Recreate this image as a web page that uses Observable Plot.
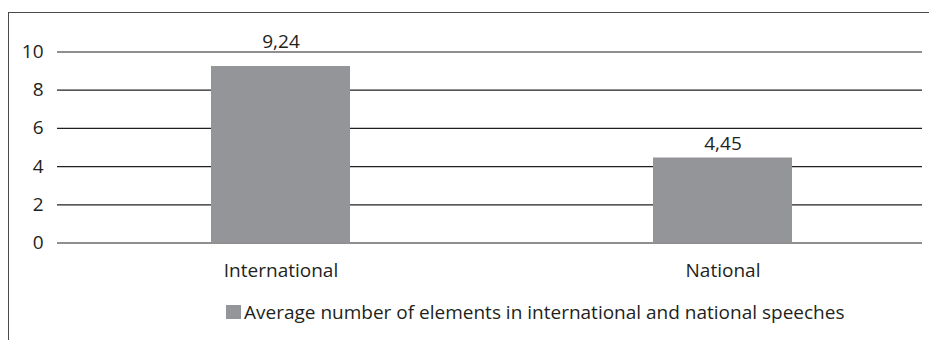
<!DOCTYPE html>
<html>
<head>
<meta charset="utf-8">
<script src="https://cdn.jsdelivr.net/npm/d3@7"></script>
<script src="https://cdn.jsdelivr.net/npm/@observablehq/plot@0.6"></script>
<style>
  html, body { margin: 0; padding: 0; background: #fff; }
  body { position: relative; width: 929px; height: 340px; overflow: hidden; font-family: "Open Sans", sans-serif; color: #231f20; }
  #frame { position: absolute; left: 7.5px; top: 12px; width: 1000px; height: 400px; border-left: 1.5px solid #4a4a4a; border-top: 1.5px solid #4a4a4a; pointer-events: none; }
  #chart { position: absolute; left: 0; top: 0; }
  #legend { position: absolute; left: 226px; top: 299px; display: flex; align-items: center; font-size: 19px; white-space: nowrap; }
  #legend .sw { width: 15px; height: 14px; background: #939598; margin-right: 3px; }
</style>
</head>
<body>
<div id="chart"></div>
<div id="frame"></div>
<div id="legend"><span class="sw"></span><span class="lt"></span></div>
<script>
const categories = ["International", "National"];
const values = [9.24, 4.45];
const valueLabels = ["9,24", "4,45"];
const yTicks = [0, 2, 4, 6, 8, 10];
const legendLabel = "Average number of elements in international and national speeches";

const data = categories.map((c, i) => ({category: c, value: values[i], label: valueLabels[i]}));

const chart = Plot.plot({
  width: 929,
  height: 290,
  marginLeft: 57,
  marginRight: 7,
  marginTop: 51.5,
  marginBottom: 47.5,
  style: {fontFamily: "Open Sans", fontSize: "19px", color: "#231f20", background: "transparent", overflow: "visible"},
  x: {domain: categories, paddingInner: 0.6855, paddingOuter: 0.321, align: 0.542, label: null},
  y: {domain: [0, 10], label: null},
  marks: [
    Plot.ruleY(yTicks, {stroke: "#231f20", strokeWidth: 1.2}),
    Plot.barY(data, {x: "category", y: "value", fill: "#939598"}),
    Plot.text(data.filter(d => d.category === "International"), {x: "category", y: "value", text: "label", lineAnchor: "bottom", dy: -19, fill: "#231f20", fontSize: 19}),
    Plot.text(data.filter(d => d.category === "National"), {x: "category", y: "value", text: "label", lineAnchor: "bottom", dy: -8, fill: "#231f20", fontSize: 19}),
    Plot.axisX({tickSize: 0, tickPadding: 20.5, fontSize: 19, label: null}),
    Plot.axisY({ticks: yTicks, tickSize: 0, tickPadding: 14, fontSize: 19, tickFormat: d => String(d), label: null})
  ]
});
document.getElementById("chart").appendChild(chart);
document.querySelector("#legend .lt").textContent = legendLabel;
</script>
</body>
</html>
